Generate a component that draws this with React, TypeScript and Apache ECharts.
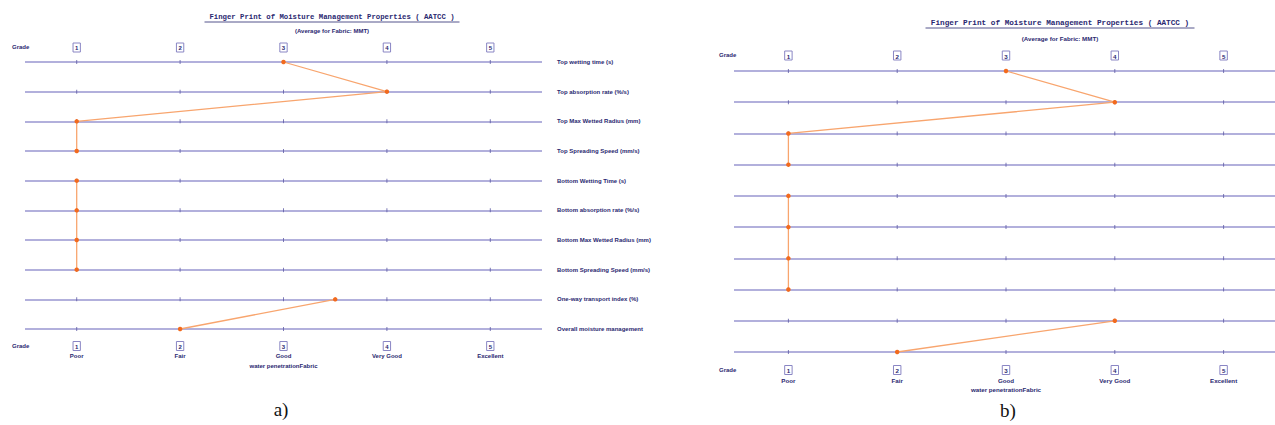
import React, { useEffect, useRef } from "react";
import * as echarts from "echarts";

// Property rows, top to bottom
const rows = [
  "Top wetting time (s)",
  "Top absorption rate (%/s)",
  "Top Max Wetted Radius (mm)",
  "Top Spreading Speed (mm/s)",
  "Bottom Wetting Time (s)",
  "Bottom absorption rate (%/s)",
  "Bottom Max Wetted Radius (mm)",
  "Bottom Spreading Speed (mm/s)",
  "One-way transport index (%)",
  "Overall moisture management",
];
const grades = [1, 2, 3, 4, 5];
const gradeWords = ["Poor", "Fair", "Good", "Very Good", "Excellent"];
// grade per row for each fabric
const gradesA = [3, 4, 1, 1, 1, 1, 1, 1, 3.5, 2];
const gradesB = [3, 4, 1, 1, 1, 1, 1, 1, 4, 2];
// rows joined by one polyline (top surface, bottom surface, summary indices)
const rowGroups = [
  [0, 1, 2, 3],
  [4, 5, 6, 7],
  [8, 9],
];
const titleText = "Finger Print of Moisture Management Properties ( AATCC )";
const subtitleText = "(Average for Fabric: MMT)";
const axisNameText = "water penetrationFabric";

const NAVY = "#2a2870";
const LAVENDER = "#9896d0";
const BOX = "#8a86c4";
const DOT = "#f26a1d";
const LINK = "#f8a56e";
const SANS = "Arial, Liberation Sans, sans-serif";

export default function App() {
  const ref = useRef<HTMLDivElement>(null);

  useEffect(() => {
    if (!ref.current) return;
    const chart = echarts.init(ref.current, undefined, { renderer: "svg" });

    const panels = [
      { left: 25, width: 517, top: 62, height: 267, vals: gradesA, labels: true, topMargin: 10, botMargin: 12, nameGap: 33.5, fs: 6 },
      { left: 734, width: 544, top: 71, height: 281, vals: gradesB, labels: false, topMargin: 11, botMargin: 13, nameGap: 34.5, fs: 6.2 },
    ];

    const boxStyle = (fs: number) => ({
      fontSize: fs,
      fontWeight: "bold" as const,
      color: NAVY,
      borderColor: BOX,
      borderWidth: 1,
      padding: [2, 2, 1, 2],
      fontFamily: SANS,
    });

    const xAxis: any[] = [];
    const yAxis: any[] = [];
    const grid: any[] = [];
    const series: any[] = [];

    panels.forEach((p, pi) => {
      grid.push({
        left: p.left,
        width: p.width,
        top: p.top,
        height: p.height,
        containLabel: false,
        outerBoundsMode: "none",
      });
      const base = {
        type: "value",
        gridIndex: pi,
        min: 0.5,
        max: 5.5,
        interval: 0.5,
        axisLine: { show: false },
        axisTick: { show: false },
        splitLine: { show: false },
      };
      xAxis.push({
        ...base,
        position: "top",
        axisLabel: {
          margin: p.topMargin,
          formatter: (v: number) => (Number.isInteger(v) && grades.includes(v) ? `{box|${v}}` : ""),
          rich: { box: boxStyle(p.fs) },
        },
      });
      xAxis.push({
        ...base,
        position: "bottom",
        name: axisNameText,
        nameLocation: "middle",
        nameGap: p.nameGap,
        nameMoveOverlap: false,
        nameTextStyle: { fontSize: p.fs, fontWeight: "bold", color: NAVY, fontFamily: SANS },
        axisLabel: {
          margin: p.botMargin,
          lineHeight: 10,
          formatter: (v: number) =>
            Number.isInteger(v) && grades.includes(v) ? `{box|${v}}\n{word|${gradeWords[v - 1]}}` : "",
          rich: {
            box: boxStyle(p.fs),
            word: { fontSize: p.fs, fontWeight: "bold", color: NAVY, lineHeight: 10, fontFamily: SANS },
          },
        },
      });
      yAxis.push({
        type: "category",
        gridIndex: pi,
        data: rows,
        inverse: true,
        boundaryGap: false,
        position: "right",
        axisLine: { show: false },
        axisTick: { show: false },
        axisLabel: {
          show: p.labels,
          margin: 15,
          align: "left",
          fontSize: 6,
          fontWeight: "bold",
          color: NAVY,
          fontFamily: SANS,
        },
        splitLine: { show: true, interval: 0, lineStyle: { color: LAVENDER, width: 1.6 } },
      });

      // small grade ticks on every row line
      const tickData: number[][] = [];
      rows.forEach((_, ri) => grades.forEach((g) => tickData.push([g, ri])));
      series.push({
        type: "scatter",
        xAxisIndex: pi * 2,
        yAxisIndex: pi,
        data: tickData,
        symbol: "rect",
        symbolSize: [1, 4],
        itemStyle: { color: "#5d5aa4" },
        silent: true,
        z: 1,
      });

      rowGroups.forEach((grp) => {
        series.push({
          type: "line",
          xAxisIndex: pi * 2,
          yAxisIndex: pi,
          data: grp.map((ri) => [p.vals[ri], ri]),
          symbol: "circle",
          symbolSize: 4.5,
          showSymbol: true,
          lineStyle: { color: LINK, width: 1.3 },
          itemStyle: { color: DOT, borderWidth: 0 },
          silent: true,
          z: 3,
        });
      });
    });

    const headTexts = [
      { cx: 332, ty: 17, sy: 31, fs: 7.3, sfs: 6, tw: 255 },
      { cx: 1060, ty: 23, sy: 38, fs: 7.7, sfs: 6.2, tw: 269 },
    ];
    const graphic: any[] = [];
    headTexts.forEach((h) => {
      graphic.push({
        type: "text",
        x: h.cx,
        y: h.ty,
        style: {
          text: titleText,
          fontSize: h.fs,
          fontWeight: "bold",
          fontFamily: "Liberation Mono, DejaVu Sans Mono, monospace",
          fill: NAVY,
          align: "center",
          verticalAlign: "middle",
        },
      });
      graphic.push({
        type: "line",
        shape: { x1: h.cx - h.tw / 2, y1: h.ty + 5, x2: h.cx + h.tw / 2, y2: h.ty + 5 },
        style: { stroke: NAVY, lineWidth: 0.8 },
      });
      graphic.push({
        type: "text",
        x: h.cx,
        y: h.sy,
        style: {
          text: subtitleText,
          fontSize: h.sfs,
          fontWeight: "bold",
          fontFamily: SANS,
          fill: NAVY,
          align: "center",
          verticalAlign: "middle",
        },
      });
    });
    [
      { x: 12, y: 47 },
      { x: 12, y: 346 },
      { x: 719, y: 55 },
      { x: 719, y: 370 },
    ].forEach((g) =>
      graphic.push({
        type: "text",
        x: g.x,
        y: g.y,
        style: {
          text: "Grade",
          fontSize: 6,
          fontWeight: "bold",
          fontFamily: SANS,
          fill: NAVY,
          verticalAlign: "middle",
        },
      })
    );
    [
      { t: "a)", x: 281, y: 409 },
      { t: "b)", x: 1008, y: 410 },
    ].forEach((c) =>
      graphic.push({
        type: "text",
        x: c.x,
        y: c.y,
        style: {
          text: c.t,
          fontSize: 19,
          fontFamily: "Liberation Serif, Times New Roman, serif",
          fill: "#111",
          align: "center",
          verticalAlign: "middle",
        },
      })
    );

    chart.setOption({
      animation: false,
      backgroundColor: "#ffffff",
      grid,
      xAxis,
      yAxis,
      series,
      graphic,
    });

    return () => chart.dispose();
  }, []);

  return (
    <div
      ref={ref}
      style={{ position: "fixed", left: 0, top: 0, width: 1275, height: 425, overflow: "hidden" }}
    />
  );
}
